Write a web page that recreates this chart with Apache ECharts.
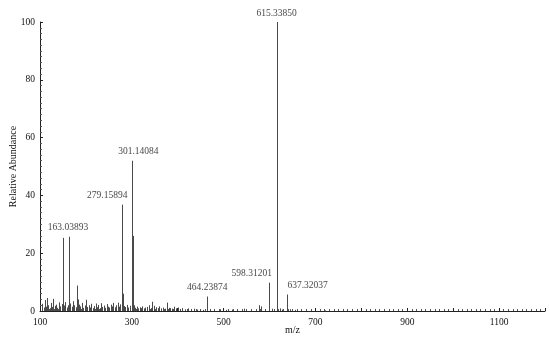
<!DOCTYPE html>
<html>
<head>
<meta charset="utf-8">
<script src="https://cdn.jsdelivr.net/npm/echarts@6/dist/echarts.min.js"></script>
<style>
	html, body { margin: 0; padding: 0; background: #fff; }
	#main { width: 550px; height: 342px; }
</style>
</head>
<body>
<div id="main"></div>
<script>
// labelled peaks (m/z, relative abundance %)
var peakMz = [149.02, 163.03893, 279.15894, 301.14084, 464.23874, 598.31201, 615.33850, 637.32037];
var peakInt = [25.3, 25.7, 36.8, 52.0, 5.0, 9.8, 100, 5.7];
var peakLabel = ['', '163.03893', '279.15894', '301.14084', '464.23874', '598.31201', '615.33850', '637.32037'];
var labelShift = [0, -1, -15, 6, 0, -17, 0, 21];

// isotope / adjacent lines
var isoMz = [150, 164, 280, 302, 303, 599, 616, 617];
var isoInt = [13, 13.3, 6, 26, 8.5, 4, 34, 8];

// background noise peaks
var noiseMz = [105, 108, 111, 113, 115, 118, 121, 124, 127, 129, 132, 135, 138, 141, 144, 147, 152, 155, 158, 161,
	166, 169, 172, 175, 178, 181, 182, 185, 188, 191, 194, 197, 200, 203, 206, 209, 212, 215, 218, 221,
	224, 227, 230, 233, 236, 239, 242, 245, 248, 251, 254, 257, 260, 263, 266, 269, 272, 275, 283, 286,
	289, 292, 295, 305, 308, 311, 314, 317, 320, 323, 326, 329, 333, 337, 341, 345, 348, 352, 356, 360,
	364, 368, 372, 376, 380, 384, 388, 392, 396, 400, 405, 410, 416, 422, 428, 435, 441, 448, 455, 470,
	480, 492, 505, 518, 530, 545, 560, 576, 582, 590, 605, 622, 628, 645, 655, 668, 690, 720, 760, 810, 850, 900];
var noiseInt = [2.5, 1.2, 3.8, 1.5, 4.5, 2.0, 1.0, 2.8, 1.4, 4.2, 1.8, 2.2, 1.1, 3.0, 1.6, 2.4, 1.9, 3.1, 1.2, 2.0,
	2.6, 1.5, 3.4, 2.0, 1.3, 8.8, 4.0, 2.2, 1.6, 2.8, 1.1, 1.9, 3.9, 1.4, 2.0, 1.2, 2.5, 1.0, 1.7, 2.6,
	1.3, 2.1, 1.0, 2.7, 1.4, 1.9, 1.1, 2.4, 1.5, 1.2, 2.2, 1.6, 2.8, 1.3, 2.0, 2.9, 1.5, 2.3, 1.7, 1.4,
	2.1, 1.2, 1.8, 2.0, 1.1, 1.5, 0.9, 1.3, 1.0, 1.6, 0.9, 1.2, 1.4, 2.0, 1.0, 3.2, 1.8, 1.3, 1.0, 1.6,
	0.9, 1.2, 0.8, 2.9, 1.1, 1.0, 0.8, 1.5, 0.9, 1.2, 0.7, 1.0, 0.6, 0.9, 0.7, 0.8, 0.5, 0.6, 0.4, 0.5,
	0.4, 0.6, 0.4, 0.5, 0.3, 0.8, 0.3, 2.0, 1.6, 0.6, 0.8, 0.9, 0.5, 0.6, 0.4, 0.3, 0.3, 0.2, 0.2, 0.2, 0.15, 0.1];

var xTickLabels = [100, 300, 500, 700, 900, 1100];

var font = 'Liberation Serif';
var lines = [];
for (var i = 0; i < noiseMz.length; i++) lines.push([noiseMz[i], noiseInt[i]]);
for (var i = 0; i < isoMz.length; i++) lines.push([isoMz[i], isoInt[i]]);
for (var i = 0; i < peakMz.length; i++) lines.push([peakMz[i], peakInt[i]]);

var labelData = [];
for (var i = 0; i < peakMz.length; i++) {
	if (!peakLabel[i]) continue;
	labelData.push({
		name: peakLabel[i],
		value: [peakMz[i], peakInt[i]],
		label: { offset: [labelShift[i], 0] }
	});
}

var myChart = echarts.init(document.getElementById('main'));
var option = {
	animation: false,
	backgroundColor: '#fff',
	grid: { left: 40, right: 5, top: 22, bottom: 31, containLabel: false, outerBoundsMode: 'none' },
	xAxis: {
		type: 'value',
		min: 100,
		max: 1200,
		interval: 100,
		name: 'm/z',
		nameLocation: 'middle',
		nameMoveOverlap: false,
		nameGap: 14,
		nameTextStyle: { fontFamily: font, fontSize: 10, color: '#111' },
		axisLine: { lineStyle: { color: '#222', width: 1 } },
		axisTick: { show: true, inside: true, length: 3, lineStyle: { color: '#222' } },
		minorTick: { show: true, splitNumber: 10, length: 2, lineStyle: { color: '#555' } },
		splitLine: { show: false },
		axisLabel: {
			fontFamily: font, fontSize: 9.5, color: '#111', margin: 6,
			formatter: function (v) { return xTickLabels.indexOf(v) >= 0 ? String(v) : ''; }
		}
	},
	yAxis: {
		type: 'value',
		min: 0,
		max: 100,
		interval: 20,
		name: 'Relative Abundance',
		nameLocation: 'middle',
		nameMoveOverlap: false,
		nameGap: 22,
		nameTextStyle: { fontFamily: font, fontSize: 10, color: '#111' },
		axisLine: { show: true, lineStyle: { color: '#222', width: 1 } },
		axisTick: { show: true, inside: true, length: 3, lineStyle: { color: '#222' } },
		minorTick: { show: true, splitNumber: 10, length: 2, lineStyle: { color: '#555' } },
		splitLine: { show: false },
		axisLabel: { fontFamily: font, fontSize: 9.5, color: '#111', margin: 5 }
	},
	series: [
		{
			type: 'custom',
			data: lines,
			renderItem: function (params, api) {
				var p0 = api.coord([api.value(0), 0]);
				var p1 = api.coord([api.value(0), api.value(1)]);
				return {
					type: 'line',
					shape: { x1: Math.round(p0[0]) + 0.5, y1: p0[1], x2: Math.round(p1[0]) + 0.5, y2: p1[1] },
					style: { stroke: '#4a4a4a', lineWidth: 1 }
				};
			},
			silent: true,
			z: 2
		},
		{
			type: 'scatter',
			data: labelData,
			symbolSize: 0,
			silent: true,
			label: {
				show: true,
				position: 'top',
				distance: 4,
				formatter: '{b}',
				fontFamily: font,
				fontSize: 9.5,
				color: '#111'
			},
			z: 3
		}
	]
};
myChart.setOption(option);
</script>
</body>
</html>
